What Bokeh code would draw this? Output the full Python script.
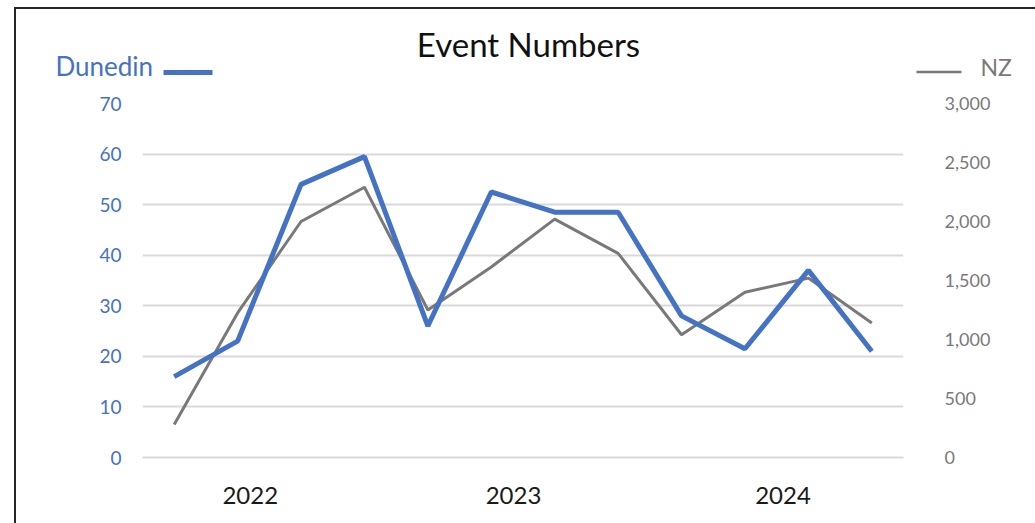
from bokeh.plotting import figure
from bokeh.layouts import column
from bokeh.models import (Range1d, LinearAxis, FixedTicker, NumeralTickFormatter,
                          ColumnDataSource)
from bokeh.core.properties import value
from bokeh.embed import file_html
from bokeh.resources import INLINE

# ---- data ----
quarters = ["2022 Q1", "2022 Q2", "2022 Q3", "2022 Q4",
            "2023 Q1", "2023 Q2", "2023 Q3", "2023 Q4",
            "2024 Q1", "2024 Q2", "2024 Q3", "2024 Q4"]
years = ["2022", "2023", "2024"]
dunedin = [16, 23, 54, 59.5, 26, 52.5, 48.5, 48.5, 28, 21.5, 37, 21]
nz = [280, 1225, 2000, 2290, 1250, 1615, 2020, 1730, 1040, 1400, 1520, 1140]
left_ticks = [0, 10, 20, 30, 40, 50, 60, 70]
right_ticks = [0, 500, 1000, 1500, 2000, 2500, 3000]
title_text = "Event Numbers"
series_names = ["Dunedin", "NZ"]

# ---- layout constants ----
W, H = 1035, 523
OX, OY = 16, 9            # content origin inside the outer frame
CW, CH = W - OX, H - OY   # content size
HEAD = 78                 # header strip height
FONT = "Lato"
BLUE = "#4472C4"
GREY = "#797979"
year_tick_pos = [1.2, 5.35, 9.6]

# ---------- header (title + series keys) ----------
hd = figure(width=CW, height=HEAD, output_backend="svg", toolbar_location=None,
            x_range=Range1d(OX, W), y_range=Range1d(OY + HEAD, OY),
            min_border=0, x_axis_location=None, y_axis_location=None)
if "frame_align" in hd.properties():
    hd.frame_align = False
hd.outline_line_color = None
hd.xgrid.visible = False
hd.ygrid.visible = False
hd.background_fill_color = "white"
hd.border_fill_color = "white"

hd.text(x=[528], y=[43], text=[title_text], text_align="center", text_baseline="middle",
        text_font=value(FONT), text_font_size="33px", text_color="#111111")
hd.text(x=[55], y=[65.5], text=[series_names[0]], text_align="left", text_baseline="middle",
        text_font=value(FONT), text_font_size="26px", text_color=BLUE)
hd.line(x=[163, 212], y=[72, 72], line_color=BLUE, line_width=5)
hd.line(x=[916, 961], y=[71.5, 71.5], line_color=GREY, line_width=2.5)
hd.text(x=[980], y=[66.5], text=[series_names[1]], text_align="left", text_baseline="middle",
        text_font=value(FONT), text_font_size="23px", text_color=GREY)

# ---------- main chart ----------
idx = list(range(len(quarters)))
src = ColumnDataSource(dict(x=idx, q=quarters, dunedin=dunedin, nz=nz))

MH = CH - HEAD
p = figure(width=CW, height=MH, output_backend="svg", toolbar_location=None,
           x_range=Range1d(-0.5, len(quarters) - 0.5),
           y_range=Range1d(left_ticks[0], left_ticks[-1]),
           min_border_left=142 - OX, min_border_right=W - 903,
           min_border_top=103 - (OY + HEAD), min_border_bottom=H - 457,
           x_axis_location=None, y_axis_location=None)
if "frame_align" in p.properties():
    p.frame_align = False
p.outline_line_color = None
p.background_fill_color = "white"
p.border_fill_color = "white"
p.extra_y_ranges = {"nz": Range1d(right_ticks[0], right_ticks[-1])}

yl = LinearAxis(ticker=FixedTicker(ticks=left_ticks))
yl.axis_line_color = None
yl.major_tick_line_color = None
yl.minor_tick_line_color = None
yl.major_label_text_color = BLUE
yl.major_label_text_font = FONT
yl.major_label_text_font_size = "19px"
yl.major_label_standoff = 15
p.add_layout(yl, "left")

yr = LinearAxis(y_range_name="nz", ticker=FixedTicker(ticks=right_ticks),
                formatter=NumeralTickFormatter(format="0,0"))
yr.axis_line_color = None
yr.major_tick_line_color = None
yr.minor_tick_line_color = None
yr.major_label_text_color = GREY
yr.major_label_text_font = FONT
yr.major_label_text_font_size = "18px"
yr.major_label_standoff = 35
p.add_layout(yr, "right")

xb = LinearAxis(ticker=FixedTicker(ticks=year_tick_pos),
                major_label_overrides={pos: y_ for pos, y_ in zip(year_tick_pos, years)})
xb.axis_line_color = "#D9D9D9"
xb.axis_line_width = 2
xb.major_tick_line_color = None
xb.minor_tick_line_color = None
xb.major_label_text_color = "#1a1a1a"
xb.major_label_text_font = FONT
xb.major_label_text_font_size = "24px"
xb.major_label_standoff = 23
p.add_layout(xb, "below")

p.xgrid.visible = False
p.ygrid.ticker = FixedTicker(ticks=left_ticks)
p.ygrid.grid_line_color = "#D9D9D9"
p.ygrid.grid_line_width = 2

p.line("x", "nz", source=src, y_range_name="nz", line_color=GREY, line_width=3)
p.line("x", "dunedin", source=src, line_color=BLUE, line_width=5)

layout = column(hd, p, spacing=0,
                styles={"border-left": "2px solid #262626",
                        "border-top": "2px solid #262626",
                        "margin-left": "14px", "margin-top": "7px",
                        "background": "white"})

open("out.html", "w").write(file_html(layout, INLINE))
